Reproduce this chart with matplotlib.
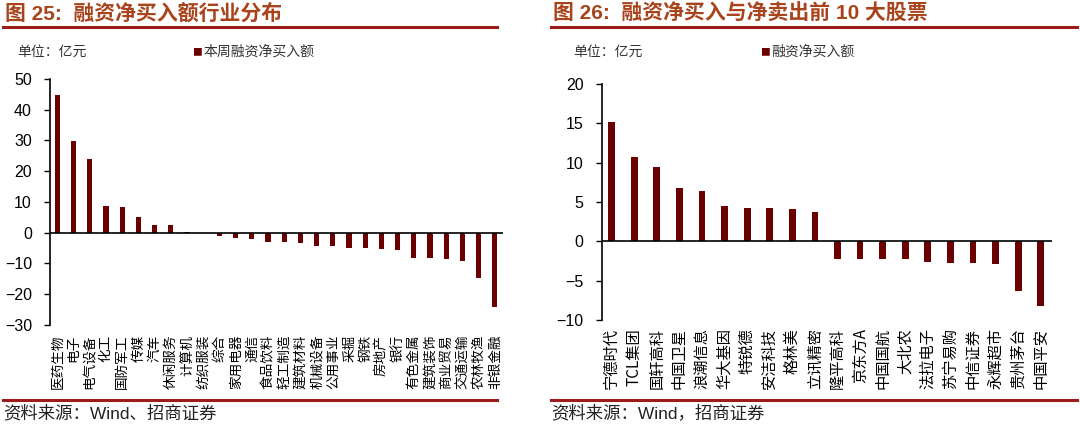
import matplotlib
matplotlib.use("Agg")
import matplotlib.pyplot as plt
from matplotlib.lines import Line2D

plt.rcParams['font.family'] = ['Liberation Sans', 'Noto Sans CJK SC', 'DejaVu Sans']

industries = ["医药生物", "电子", "电气设备", "化工", "国防军工", "传媒", "汽车", "休闲服务",
              "计算机", "纺织服装", "综合", "家用电器", "通信", "食品饮料", "轻工制造", "建筑材料",
              "机械设备", "公用事业", "采掘", "钢铁", "房地产", "银行", "有色金属", "建筑装饰",
              "商业贸易", "交通运输", "农林牧渔", "非银金融"]
industry_net = [44.9, 29.9, 24.0, 8.7, 8.5, 5.1, 2.6, 2.4,
                0.1, -0.1, -1.2, -1.6, -2.0, -2.9, -3.1, -3.3,
                -4.3, -4.3, -4.8, -4.8, -5.3, -5.6, -8.1, -8.3,
                -8.5, -9.3, -14.7, -24.0]

stocks = ["宁德时代", "TCL集团", "国轩高科", "中国卫星", "浪潮信息", "华大基因", "特锐德", "安洁科技",
          "格林美", "立讯精密", "隆平高科", "京东方A", "中国国航", "大北农", "法拉电子", "苏宁易购",
          "中信证券", "永辉超市", "贵州茅台", "中国平安"]
stock_net = [15.2, 10.7, 9.5, 6.8, 6.4, 4.5, 4.3, 4.3,
             4.1, 3.7, -2.2, -2.2, -2.3, -2.3, -2.6, -2.7,
             -2.7, -2.9, -6.3, -8.2]

W, H = 1080, 425
bar_color = "#6b0000"
line_color = "#9c1c1c"
title_color = "#a8431c"
cjk = ['Noto Sans CJK SC', 'DejaVu Sans']

fig = plt.figure(figsize=(W / 100, H / 100), dpi=100)


def px_axes(x0, x1, ytop, ybot):
    return fig.add_axes([x0 / W, 1 - ybot / H, (x1 - x0) / W, (ybot - ytop) / H])


def panel(ax, names, values, ylim, step, width, label_size, pad):
    ax.bar(range(len(values)), values, width=width, color=bar_color, zorder=3)
    ax.axhline(0, color="black", lw=1.2, zorder=4)
    ax.set_xlim(-0.45, len(values) - 0.5)
    ax.set_ylim(*ylim)
    ax.set_yticks(range(ylim[0], ylim[1] + 1, step))
    for s in ["top", "right", "bottom"]:
        ax.spines[s].set_visible(False)
    ax.spines["left"].set_linewidth(1.2)
    ax.tick_params(axis="y", length=4, width=1, pad=9, labelsize=11.5)
    ax.set_xticks(range(len(values)))
    ax.set_xticklabels(names, rotation=90, family=cjk, fontsize=label_size)
    ax.tick_params(axis="x", length=0, pad=pad)
    ax.patch.set_alpha(0)


ax1 = px_axes(50, 503, 79, 325)
panel(ax1, industries, industry_net, (-30, 50), 10, 0.32, 9.8, 7)

ax2 = px_axes(601.5, 1052, 84, 320)
panel(ax2, stocks, stock_net, (-10, 20), 5, 0.3, 11, 6)

# titles and rules
fig.text(5 / W, 1 - 14 / H, "图 25:  融资净买入额行业分布", color=title_color, fontsize=15,
         fontweight="bold", va="center", ha="left")
fig.text(553 / W, 1 - 14 / H, "图 26:  融资净买入与净卖出前 10 大股票", color=title_color, fontsize=15,
         fontweight="bold", va="center", ha="left")
for xa, xb in [(3, 497), (551, 1077)]:
    fig.add_artist(Line2D([xa / W, xb / W], [1 - 27 / H, 1 - 27 / H], color=line_color, lw=2.2))
    fig.add_artist(Line2D([xa / W, xb / W], [1 - 400 / H, 1 - 400 / H], color=line_color, lw=2.2))

fig.text(3 / W, 1 - 413 / H, "资料来源：Wind、招商证券", fontsize=12.5, va="center", ha="left", color="#222222")
fig.text(551 / W, 1 - 413 / H, "资料来源：Wind，招商证券", fontsize=12.5, va="center", ha="left", color="#222222")

# unit labels and legends
fig.text(17 / W, 1 - 52 / H, "单位：亿元", fontsize=10, va="center", ha="left", color="#333333", family=cjk)
fig.text(573 / W, 1 - 52 / H, "单位：亿元", fontsize=10, va="center", ha="left", color="#333333", family=cjk)
fig.text(192 / W, 1 - 52 / H, "■", fontsize=7, va="center", ha="left", color=bar_color, family=cjk)
fig.text(203 / W, 1 - 52 / H, "本周融资净买入额", fontsize=10, va="center", ha="left", color="#333333", family=cjk)
fig.text(760 / W, 1 - 52 / H, "■", fontsize=7, va="center", ha="left", color=bar_color, family=cjk)
fig.text(771 / W, 1 - 52 / H, "融资净买入额", fontsize=10, va="center", ha="left", color="#333333", family=cjk)

fig.savefig("out.png", dpi=100, facecolor="white")
